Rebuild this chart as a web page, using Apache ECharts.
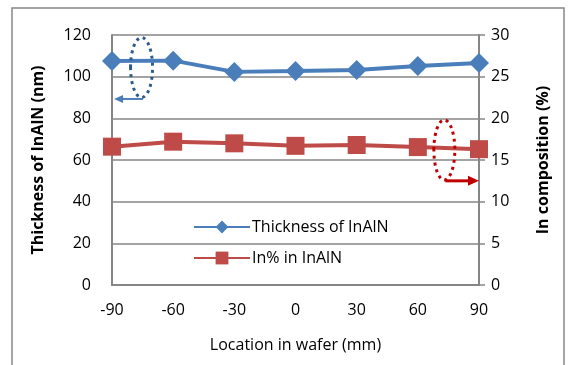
<!DOCTYPE html>
<html><head><meta charset="utf-8">
<script src="https://cdn.jsdelivr.net/npm/echarts@6/dist/echarts.min.js"></script>
<style>html,body{margin:0;padding:0;background:#fff}#c{width:569px;height:365px}</style>
</head><body><div id="c"></div>
<script>
var locations = [-90, -60, -30, 0, 30, 60, 90];
var thickness = [107.5, 107.7, 102.3, 102.7, 103.2, 105.1, 106.6];
var indium = [16.6, 17.2, 17.0, 16.7, 16.8, 16.55, 16.3];
var leftTicks = [0, 20, 40, 60, 80, 100, 120];
var rightTicks = [0, 5, 10, 15, 20, 25, 30];

var FONT = 'Open Sans';
var GRAY = '#868686';
var chart = echarts.init(document.getElementById('c'));
var opt = {
  animation: false,
  backgroundColor: '#fff',
  textStyle: {fontFamily: FONT},
  grid: {left: 112, right: 90, top: 35, bottom: 80},
  legend: {
    orient: 'vertical', left: 188, top: 214, itemGap: 15,
    itemWidth: 56, itemHeight: 16,
    textStyle: {fontFamily: FONT, fontSize: 16, color: '#000', padding: [0, 0, 0, -3]},
    data: ['Thickness of InAlN', 'In% in InAlN']
  },
  xAxis: {
    type: 'value', min: locations[0], max: locations[locations.length - 1], interval: 30,
    name: 'Location in wafer (mm)', nameLocation: 'middle', nameGap: 52,
    nameTextStyle: {fontFamily: FONT, fontSize: 16, color: '#000'},
    axisLine: {show: true, onZero: false, lineStyle: {color: GRAY, width: 2}},
    axisTick: {show: false},
    splitLine: {show: false},
    axisLabel: {fontFamily: FONT, fontSize: 16, color: '#000', margin: 17}
  },
  yAxis: [{
    type: 'value', min: leftTicks[0], max: leftTicks[leftTicks.length - 1], interval: 20,
    name: 'Thickness of InAlN (nm)', nameLocation: 'middle', nameGap: 66,
    nameTextStyle: {fontFamily: FONT, fontSize: 16, fontWeight: 'bold', color: '#000'},
    axisLine: {show: true, onZero: false, lineStyle: {color: GRAY, width: 2}},
    axisTick: {show: false},
    splitLine: {show: true, lineStyle: {color: GRAY, width: 1.5}},
    axisLabel: {fontFamily: FONT, fontSize: 16, color: '#000', margin: 21}
  }, {
    type: 'value', min: rightTicks[0], max: rightTicks[rightTicks.length - 1], interval: 5,
    name: 'In composition (%)', nameLocation: 'middle', nameGap: 56, nameRotate: 90,
    nameTextStyle: {fontFamily: FONT, fontSize: 16, fontWeight: 'bold', color: '#000'},
    position: 'right',
    axisLine: {show: true, onZero: false, lineStyle: {color: GRAY, width: 2}},
    axisTick: {show: true, length: 6, inside: false, lineStyle: {color: GRAY, width: 1.5}},
    splitLine: {show: false},
    axisLabel: {fontFamily: FONT, fontSize: 16, color: '#000', margin: 12}
  }],
  series: [{
    name: 'Thickness of InAlN', type: 'line', yAxisIndex: 0,
    data: locations.map(function (x, i) { return [x, thickness[i]]; }),
    symbol: 'diamond', symbolSize: 20,
    lineStyle: {color: '#4A7EBB', width: 4},
    itemStyle: {color: '#4A7EBB'}
  }, {
    name: 'In% in InAlN', type: 'line', yAxisIndex: 1,
    data: locations.map(function (x, i) { return [x, indium[i]]; }),
    symbol: 'rect', symbolSize: 18,
    lineStyle: {color: '#BE4B48', width: 4},
    itemStyle: {color: '#BE4B48'}
  }]
};
chart.setOption(opt);

// Annotations placed in data coordinates via the chart's own scales
function px(x, y, idx) { return chart.convertToPixel({xAxisIndex: 0, yAxisIndex: idx}, [x, y]); }
var bC = px(-75.5, 104.4, 0);
var bA0 = px(-74.8, 89.3, 0), bA1 = px(-89, 89.3, 0);
var rC = px(73, 16.2, 1);
var rA0 = px(73.5, 12.5, 1), rA1 = px(90, 12.5, 1);
chart.setOption({
  graphic: [
    {type: 'rect', shape: {x: 12, y: 8, width: 552, height: 400}, style: {fill: 'none', stroke: GRAY, lineWidth: 1.5}, z: -1},
    {type: 'ellipse', shape: {cx: bC[0], cy: bC[1], rx: 11, ry: 30}, style: {fill: 'none', stroke: '#2E5B8C', lineWidth: 3, lineDash: [3, 4]}, z: 10},
    {type: 'line', shape: {x1: bA0[0], y1: bA0[1], x2: bA1[0] + 6, y2: bA1[1]}, style: {stroke: '#4A7EBB', lineWidth: 2}, z: 10},
    {type: 'polygon', shape: {points: [[bA1[0], bA1[1]], [bA1[0] + 9, bA1[1] - 4], [bA1[0] + 9, bA1[1] + 4]]}, style: {fill: '#4A7EBB'}, z: 10},
    {type: 'ellipse', shape: {cx: rC[0], cy: rC[1], rx: 10.5, ry: 30}, style: {fill: 'none', stroke: '#C00000', lineWidth: 3, lineDash: [3, 4]}, z: 10},
    {type: 'line', shape: {x1: rA0[0], y1: rA0[1], x2: rA1[0] - 6, y2: rA1[1]}, style: {stroke: '#C00000', lineWidth: 3}, z: 10},
    {type: 'polygon', shape: {points: [[rA1[0], rA1[1]], [rA1[0] - 11, rA1[1] - 5], [rA1[0] - 11, rA1[1] + 5]]}, style: {fill: '#C00000'}, z: 10}
  ]
});
</script></body></html>
